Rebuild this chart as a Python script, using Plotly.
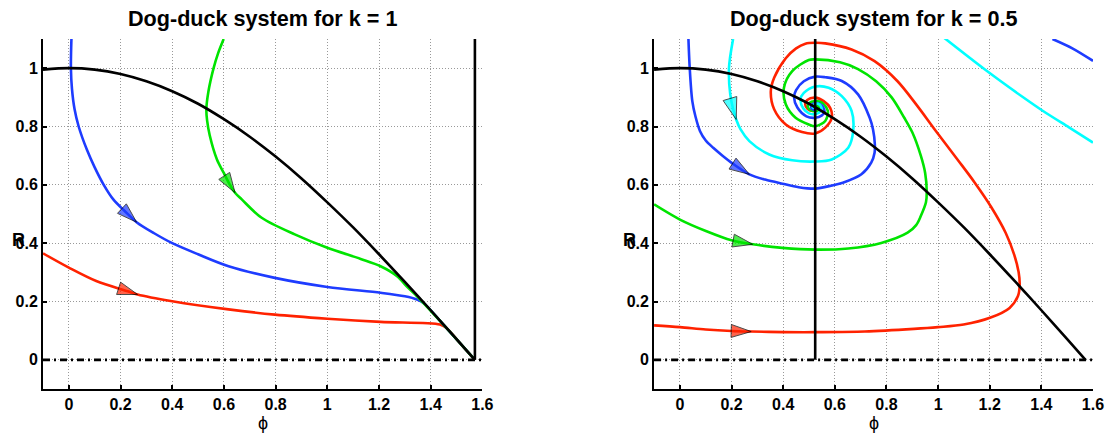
import plotly.graph_objects as go

# ---------------- data ----------------
k_values = [1, 0.5]
titles = ["Dog-duck system for k = 1", "Dog-duck system for k = 0.5"]

phi_ticks = [0, 0.2, 0.4, 0.6, 0.8, 1, 1.2, 1.4, 1.6]
phi_ticktext = ["0", "0.2", "0.4", "0.6", "0.8", "1", "1.2", "1.4", "1.6"]
R_ticks = [0, 0.2, 0.4, 0.6, 0.8, 1]
R_ticktext = ["0", "0.2", "0.4", "0.6", "0.8", "1"]

# black curved nullcline (same in both panels)
null_phi = [-0.1, 0.0, 0.1, 0.2, 0.3, 0.4, 0.5, 0.6, 0.7, 0.8, 0.9, 1.0, 1.1, 1.2, 1.3, 1.4, 1.5, 1.571]
null_R = [0.995, 1.0, 0.995, 0.980, 0.955, 0.921, 0.878, 0.825, 0.765, 0.697, 0.622, 0.540, 0.454, 0.362,
          0.267, 0.170, 0.071, 0.0]

# black vertical nullclines
vert_k1_phi = [1.571, 1.571]
vert_k1_R = [0.0, 1.1]
vert_k05_phi = [0.524, 0.524]
vert_k05_R = [0.0, 1.1]

# dash-dot line R = 0
zero_phi = [-0.1, 1.6]
zero_R = [0.0, 0.0]

# ---- k = 1 trajectories ----
blue_k1_phi = [0.010, 0.008, 0.012, 0.022, 0.038, 0.070, 0.100, 0.135, 0.172, 0.215, 0.262, 0.330, 0.400,
               0.500, 0.618, 0.797, 1.000, 1.206, 1.300, 1.347, 1.372, 1.450, 1.571]
blue_k1_R = [1.100, 1.000, 0.930, 0.860, 0.800, 0.720, 0.660, 0.600, 0.550, 0.511, 0.472, 0.434, 0.400,
             0.362, 0.321, 0.281, 0.250, 0.230, 0.218, 0.207, 0.195, 0.120, 0.0]
blue_k1_arrow = 10

green_k1_phi = [0.599, 0.577, 0.560, 0.540, 0.532, 0.535, 0.545, 0.573, 0.600, 0.620, 0.643, 0.669, 0.746,
                0.874, 1.000, 1.129, 1.206, 1.270, 1.309, 1.347, 1.450, 1.571]
green_k1_R = [1.100, 1.050, 1.000, 0.920, 0.859, 0.820, 0.770, 0.687, 0.640, 0.605, 0.573, 0.550, 0.487,
              0.430, 0.384, 0.346, 0.321, 0.287, 0.250, 0.218, 0.120, 0.0]
green_k1_arrow = 10

red_k1_phi = [-0.100, 0.000, 0.106, 0.228, 0.266, 0.400, 0.618, 0.797, 1.000, 1.206, 1.436, 1.460, 1.520, 1.571]
red_k1_R = [0.365, 0.316, 0.270, 0.235, 0.224, 0.201, 0.173, 0.155, 0.141, 0.130, 0.121, 0.110, 0.050, 0.0]
red_k1_arrow = 4

# ---- k = 0.5 trajectories ----
red_k05_phi = [-0.100, 0.000, 0.100, 0.200, 0.276, 0.400, 0.524, 0.716, 0.907, 1.000, 1.099, 1.201, 1.277,
               1.309, 1.316, 1.312, 1.295, 1.262, 1.205, 1.140, 1.075, 0.992, 0.915, 0.842, 0.754, 0.665,
               0.563, 0.524, 0.486, 0.450, 0.410, 0.365, 0.352, 0.365, 0.410, 0.473, 0.524, 0.563, 0.588,
               0.582, 0.557, 0.524, 0.493, 0.485, 0.495, 0.515, 0.530, 0.534, 0.527, 0.5236]
red_k05_R = [0.118, 0.112, 0.104, 0.099, 0.097, 0.095, 0.095, 0.097, 0.106, 0.112, 0.121, 0.144, 0.178,
             0.218, 0.255, 0.300, 0.360, 0.435, 0.525, 0.610, 0.687, 0.784, 0.876, 0.956, 1.024, 1.064,
             1.085, 1.087, 1.084, 1.068, 1.034, 0.967, 0.920, 0.859, 0.807, 0.781, 0.776, 0.796, 0.830,
             0.864, 0.887, 0.899, 0.891, 0.877, 0.860, 0.853, 0.858, 0.866, 0.872, 0.866]
red_k05_arrow = 4

green_k05_phi = [-0.100, 0.000, 0.103, 0.200, 0.282, 0.397, 0.524, 0.652, 0.780, 0.882, 0.915, 0.933, 0.953,
                 0.956, 0.950, 0.933, 0.900, 0.869, 0.820, 0.760, 0.690, 0.620, 0.524, 0.499, 0.435, 0.403,
                 0.410, 0.448, 0.499, 0.524, 0.563, 0.573, 0.550, 0.524, 0.500, 0.495, 0.505, 0.524, 0.540,
                 0.535, 0.5236]
green_k05_R = [0.533, 0.481, 0.441, 0.410, 0.396, 0.384, 0.378, 0.382, 0.401, 0.436, 0.462, 0.493, 0.540,
               0.577, 0.640, 0.700, 0.780, 0.830, 0.900, 0.955, 0.997, 1.020, 1.030, 1.028, 0.990, 0.933,
               0.876, 0.830, 0.807, 0.801, 0.819, 0.853, 0.882, 0.887, 0.880, 0.868, 0.857, 0.853, 0.860,
               0.870, 0.866]
green_k05_arrow = 4

blue_k05_phi = [0.033, 0.038, 0.048, 0.060, 0.078, 0.100, 0.129, 0.165, 0.206, 0.269, 0.330, 0.397, 0.460,
                0.524, 0.590, 0.631, 0.703, 0.741, 0.754, 0.755, 0.748, 0.735, 0.690, 0.627, 0.563, 0.524,
                0.480, 0.450, 0.442, 0.455, 0.490, 0.524, 0.550, 0.560, 0.550, 0.524, 0.508, 0.512, 0.524,
                0.5236]
blue_k05_R = [1.100, 1.000, 0.887, 0.835, 0.784, 0.752, 0.727, 0.700, 0.672, 0.636, 0.618, 0.604, 0.592,
              0.587, 0.598, 0.607, 0.636, 0.676, 0.710, 0.739, 0.790, 0.830, 0.910, 0.956, 0.969, 0.971,
              0.955, 0.925, 0.900, 0.865, 0.835, 0.830, 0.838, 0.850, 0.872, 0.880, 0.872, 0.860, 0.858,
              0.866]
blue_k05_arrow = 9

cyan_k05_phi = [0.206, 0.190, 0.195, 0.206, 0.218, 0.235, 0.269, 0.346, 0.435, 0.524, 0.588, 0.652, 0.671,
                0.665, 0.627, 0.576, 0.524, 0.480, 0.467, 0.478, 0.500, 0.524, 0.545, 0.548, 0.535, 0.518,
                0.515, 0.5236]
cyan_k05_R = [1.100, 1.000, 0.910, 0.860, 0.824, 0.790, 0.750, 0.704, 0.684, 0.680, 0.687, 0.727, 0.784,
              0.853, 0.904, 0.933, 0.937, 0.915, 0.893, 0.862, 0.845, 0.842, 0.852, 0.866, 0.878, 0.875,
              0.865, 0.866]
cyan_k05_arrow = 4

cyan2_k05_phi = [1.022, 1.188, 1.328, 1.405, 1.507, 1.600]
cyan2_k05_R = [1.105, 0.991, 0.901, 0.854, 0.797, 0.745]

blue2_k05_phi = [1.443, 1.520, 1.600]
blue2_k05_R = [1.100, 1.068, 1.025]

# ---------------- style ----------------
RED = "#ff2200"
GREEN = "#00e400"
BLUE = "#1e3cff"
CYAN = "#00ffff"
LW = 2.6
FONT = "Liberation Sans, Arial, Helvetica, sans-serif"

fig = go.Figure()


def curve(x, y, color, ax, dash="solid", shape="spline"):
    fig.add_trace(go.Scatter(x=x, y=y, mode="lines", xaxis=ax[0], yaxis=ax[1],
                             line=dict(color=color, width=LW, dash=dash, shape=shape, smoothing=0.9),
                             hoverinfo="skip", showlegend=False))


def arrow(x, y, i, color, ax, size=21):
    fig.add_trace(go.Scatter(x=[x[i - 1], x[i]], y=[y[i - 1], y[i]], mode="markers",
                             xaxis=ax[0], yaxis=ax[1],
                             marker=dict(symbol="arrow", size=[0, size], angleref="previous",
                                         color=color, line=dict(color="black", width=1)),
                             hoverinfo="skip", showlegend=False))


A1 = ("x", "y")
A2 = ("x2", "y2")

# left panel
curve(red_k1_phi, red_k1_R, RED, A1)
curve(blue_k1_phi, blue_k1_R, BLUE, A1)
curve(green_k1_phi, green_k1_R, GREEN, A1)
curve(null_phi, null_R, "black", A1)
curve(vert_k1_phi, vert_k1_R, "black", A1, shape="linear")
curve(zero_phi, zero_R, "black", A1, dash="7px,4px,2px,4px", shape="linear")
arrow(red_k1_phi, red_k1_R, red_k1_arrow, RED, A1)
arrow(blue_k1_phi, blue_k1_R, blue_k1_arrow, BLUE, A1)
arrow(green_k1_phi, green_k1_R, green_k1_arrow, GREEN, A1)

# right panel
curve(cyan2_k05_phi, cyan2_k05_R, CYAN, A2)
curve(blue2_k05_phi, blue2_k05_R, BLUE, A2)
curve(red_k05_phi, red_k05_R, RED, A2)
curve(green_k05_phi, green_k05_R, GREEN, A2)
curve(blue_k05_phi, blue_k05_R, BLUE, A2)
curve(cyan_k05_phi, cyan_k05_R, CYAN, A2)
curve(null_phi, null_R, "black", A2)
curve(vert_k05_phi, vert_k05_R, "black", A2, shape="linear")
curve(zero_phi, zero_R, "black", A2, dash="7px,4px,2px,4px", shape="linear")
arrow(red_k05_phi, red_k05_R, red_k05_arrow, RED, A2)
arrow(green_k05_phi, green_k05_R, green_k05_arrow, GREEN, A2)
arrow(blue_k05_phi, blue_k05_R, blue_k05_arrow, BLUE, A2)
arrow(cyan_k05_phi, cyan_k05_R, cyan_k05_arrow, CYAN, A2, size=23)

W, H = 1116, 434
ML, MR, MT, MB = 43, 12, 39, 45
PW = W - ML - MR
PH = H - MT - MB

tickfont = dict(family=FONT, size=16, color="black", weight="bold")
common_x = dict(range=[-0.1, 1.6], tickvals=phi_ticks, ticktext=phi_ticktext, ticks="inside",
                ticklen=4, tickwidth=2, tickcolor="black", showline=True, linewidth=2, linecolor="black",
                showgrid=True, gridcolor="#999999", gridwidth=1, griddash="1px,2px", zeroline=False,
                tickfont=tickfont, fixedrange=True)
common_y = dict(range=[-0.1, 1.1], tickvals=R_ticks, ticktext=R_ticktext, ticks="inside",
                ticklen=4, tickwidth=2, tickcolor="black", showline=True, linewidth=2, linecolor="black",
                showgrid=True, gridcolor="#999999", gridwidth=1, griddash="1px,2px", zeroline=False,
                tickfont=tickfont, fixedrange=True)

fig.update_layout(
    width=W, height=H, autosize=False,
    margin=dict(l=ML, r=MR, t=MT, b=MB, pad=0),
    paper_bgcolor="white", plot_bgcolor="white",
    xaxis=dict(domain=[0, 444 / PW], anchor="y", **common_x),
    yaxis=dict(domain=[0, 1], anchor="x", **common_y),
    xaxis2=dict(domain=[617.5 / PW, 1], anchor="y2", **common_x),
    yaxis2=dict(domain=[0, 1], anchor="x2", **common_y),
)

annos = []
for xd, t in [("x domain", titles[0]), ("x2 domain", titles[1])]:
    annos.append(dict(text=t, xref=xd, x=0.5, yref="paper", y=1 + (MT - 19) / PH, yanchor="middle",
                      xanchor="center", showarrow=False,
                      font=dict(family=FONT, size=21.6, color="black", weight="bold")))
    annos.append(dict(text="ϕ", xref=xd, x=0.5, yref="paper", y=-(423 - (H - MB)) / PH, yanchor="middle",
                      xanchor="center", showarrow=False,
                      font=dict(family=FONT, size=18, color="black")))
for px in (18, 636):
    annos.append(dict(text="R", xref="paper", x=(px - ML) / PW, yref="paper", y=((H - MB) - 240) / PH,
                      xanchor="center", yanchor="middle", showarrow=False,
                      font=dict(family=FONT, size=18, color="black", weight="bold")))
fig.update_layout(annotations=annos)

fig.write_html(
    "out.html",
    config={"displayModeBar": False, "responsive": False, "staticPlot": True},
    post_script=("document.documentElement.style.overflow='hidden';"
                 "document.body.style.overflow='hidden';"
                 "document.body.style.margin='0px';"),
)
